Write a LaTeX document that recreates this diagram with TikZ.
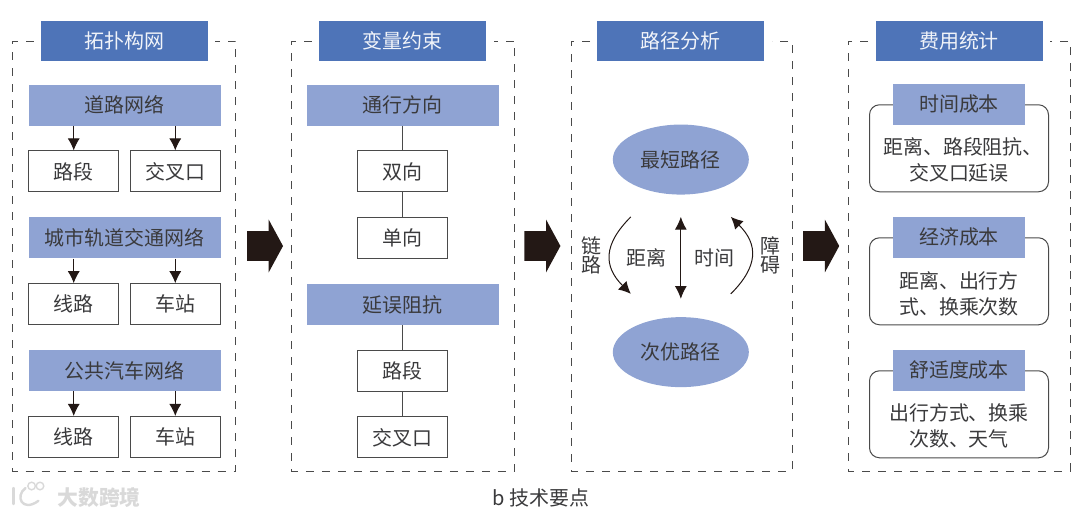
\documentclass[tikz,border=0pt]{standalone}
\usepackage{fontspec}
\setmainfont{Noto Sans CJK SC}
\usepackage{tikz}
\usetikzlibrary{arrows.meta,positioning,shapes.geometric,shapes.arrows}
\usepackage{xcolor}
\definecolor{headblue}{HTML}{4E74B8}
\definecolor{subblue}{HTML}{8FA3D3}
\definecolor{inkgray}{HTML}{3A3A3C}
\definecolor{linegray}{HTML}{4A4A4A}
\definecolor{blockink}{HTML}{231815}

\begin{document}
\begin{tikzpicture}[
   node distance=6.15mm,
   every node/.style={font=\fontsize{14.2}{18.4}\selectfont,text=inkgray},
   head/.style={fill=headblue,minimum width=41.75mm,minimum height=10mm,inner sep=0pt,text=white!92!headblue},
   group/.style={fill=subblue,minimum width=48mm,minimum height=10.25mm,inner sep=0pt},
   cell/.style={draw=linegray,line width=.25mm,fill=white,minimum width=22.5mm,minimum height=10.25mm,inner sep=0pt},
   tag/.style={fill=subblue,minimum width=33mm,minimum height=10.25mm,inner sep=0pt},
   costbox/.style={draw=linegray,line width=.25mm,rounded corners=2.5mm,minimum width=44.75mm,minimum height=21.75mm},
   costtext/.style={align=center,inner sep=0pt},
   route/.style={ellipse,fill=subblue,minimum width=34mm,minimum height=17.5mm,inner sep=0pt},
   lab/.style={inner sep=0pt,align=center},
   frame/.style={draw=linegray,line width=.2mm,dash pattern=on 2mm off 2mm},
   link/.style={draw=linegray,line width=.25mm},
   arr/.style={-{Latex[length=3mm,width=3mm]},line width=.25mm,draw=blockink},
   biarr/.style={{Latex[length=3.2mm,width=3mm]}-{Latex[length=3.2mm,width=3mm]},line width=.25mm,draw=blockink},
   block/.style={single arrow,fill=blockink,minimum height=9mm,minimum width=13mm,inner xsep=0pt,inner ysep=3.625mm,
                 single arrow head extend=2.9mm,single arrow tip angle=123},
   logo/.style={draw=gray!30,line width=.6mm,line cap=round}
 ]
  \useasboundingbox (0,0) rectangle (270mm,-129.25mm);
  % panel titles
  \node[head] (topo) at (31.125mm,-10.25mm) {拓扑构网};
  \node[head,right=27.65mm of topo] (vars) {变量约束};
  \node[head,right=27.65mm of vars] (path) {路径分析};
  \node[head,right=27.65mm of path] (cost) {费用统计};
  % dashed frames
  \draw[frame] ([xshift=-1.75mm]topo.west) -- ++(-5.25mm,0) -- ++(0,-107.5mm) -- ++(55.75mm,0) -- ++(0,107.5mm) -- ++(-5.25mm,0);
  \draw[frame] ([xshift=-1.75mm]vars.west) -- ++(-5mm,0) -- ++(0,-107.5mm) -- ++(55.75mm,0) -- ++(0,107.5mm) -- ++(-5.25mm,0);
  \draw[frame] ([xshift=-1.75mm]path.west) -- ++(-4.75mm,0) -- ++(0,-107.5mm) -- ++(55.25mm,0) -- ++(0,107.5mm) -- ++(-5mm,0);
  \draw[frame] ([xshift=-1.75mm]cost.west) -- ++(-5mm,0) -- ++(0,-107.5mm) -- ++(55.5mm,0) -- ++(0,107.5mm) -- ++(-5mm,0);
  % first panel
  \node[group,below=5.75mm of topo] (road) {道路网络};
  \node[cell,below right=6.15mm and 0mm of road.south west] (seg) {路段};
  \node[cell,below left=6.15mm and 0mm of road.south east] (cross) {交叉口};
  \node[group,below right=6.15mm and 0mm of seg.south west] (metro) {城市轨道交通网络};
  \node[cell,below right=6.15mm and 0mm of metro.south west] (line) {线路};
  \node[cell,below left=6.15mm and 0mm of metro.south east] (stop) {车站};
  \node[group,below right=6.15mm and 0mm of line.south west] (bus) {公共汽车网络};
  \node[cell,below right=6.15mm and 0mm of bus.south west] (busline) {线路};
  \node[cell,below left=6.15mm and 0mm of bus.south east] (busstop) {车站};
  \draw[arr] (seg.north |- road.south) -- (seg.north);
  \draw[arr] (cross.north |- road.south) -- (cross.north);
  \draw[arr] (line.north |- metro.south) -- (line.north);
  \draw[arr] (stop.north |- metro.south) -- (stop.north);
  \draw[arr] (busline.north |- bus.south) -- (busline.north);
  \draw[arr] (busstop.north |- bus.south) -- (busstop.north);
  % second panel
  \node[group,below=5.75mm of vars] (dir) {通行方向};
  \node[cell,below=of dir] (twoway) {双向};
  \node[cell,below=of twoway] (oneway) {单向};
  \node[group,below=of oneway] (delay) {延误阻抗};
  \node[cell,below=of delay] (delayseg) {路段};
  \node[cell,below=of delayseg] (delaycross) {交叉口};
  \draw[link] (dir) -- (twoway);
  \draw[link] (twoway) -- (oneway);
  \draw[link] (delay) -- (delayseg);
  \draw[link] (delayseg) -- (delaycross);
  % third panel
  \node[route,below=15.75mm of path] (best) {最短路径};
  \node[route,below=30.5mm of best] (second) {次优路径};
  \coordinate (lefttop) at ([xshift=-12.5mm,yshift=-5.5mm]best.south);
  \coordinate (leftlow) at ([xshift=-12.5mm,yshift=5.75mm]second.north);
  \coordinate (righttop) at ([xshift=12.5mm,yshift=-5.5mm]best.south);
  \coordinate (rightlow) at ([xshift=12.5mm,yshift=5.75mm]second.north);
  \draw[biarr,shorten <=5.5mm,shorten >=4.5mm] (best.south)
     -- node[lab,left=3.5mm,yshift=-.5mm] {距离} node[lab,right=3.25mm,yshift=-.5mm] {时间} (second.north);
  \draw[arr] (lefttop) to[bend right=45,looseness=1.3] node[lab,left=2mm] {链\\[-1.5mm]路} (leftlow);
  \draw[arr] (rightlow) to[bend right=45,looseness=1.3] node[lab,right=2mm] {障\\[-1.5mm]碍} (righttop);
  % fourth panel
  \node[costbox,below=10.75mm of cost] (timebox) {};
  \node[tag] (timetag) at (timebox.north) {时间成本};
  \node[costtext] (timetext) at ([yshift=-2.9mm]timebox.center) {\hspace*{2mm}距离、路段阻抗、\\交叉口延误};
  \node[costbox,below=11.25mm of timebox] (moneybox) {};
  \node[tag] (moneytag) at (moneybox.north) {经济成本};
  \node[costtext] (moneytext) at ([yshift=-3.1mm]moneybox.center) {距离、出行方\\式、换乘次数};
  \node[costbox,below=11.25mm of moneybox] (comfortbox) {};
  \node[tag] (comforttag) at (comfortbox.north) {舒适度成本};
  \node[costtext] (comforttext) at ([yshift=-3mm]comfortbox.center) {出行方式、换乘\\次数、天气};
  % block arrows between panels
  \node[block] (go1) at (65.25mm,-61.5mm) {};
  \node[block] (go2) at (134.6mm,-61.5mm) {};
  \node[block] (go3) at (204.3mm,-61.5mm) {};
  % caption and watermark
  \node (caption) at (135.25mm,-124.6mm) {b 技术要点};
  \node[text=gray!30,font=\fontsize{14.8}{18}\selectfont\bfseries] (mark) at (24.75mm,-124.4mm) {大数跨境};
  \draw[logo] (3.4mm,-122mm) -- (3.4mm,-126mm);
  \draw[logo] (6.4mm,-122mm) .. controls (3.6mm,-124mm) and (5.6mm,-128.2mm) .. (9.6mm,-125.2mm);
  \draw[logo,line width=.35mm] (7.9mm,-121.5mm) circle[radius=.95mm];
  \draw[logo,line width=.35mm] (10mm,-121.5mm) circle[radius=.95mm];
 \end{tikzpicture}
\end{document}
